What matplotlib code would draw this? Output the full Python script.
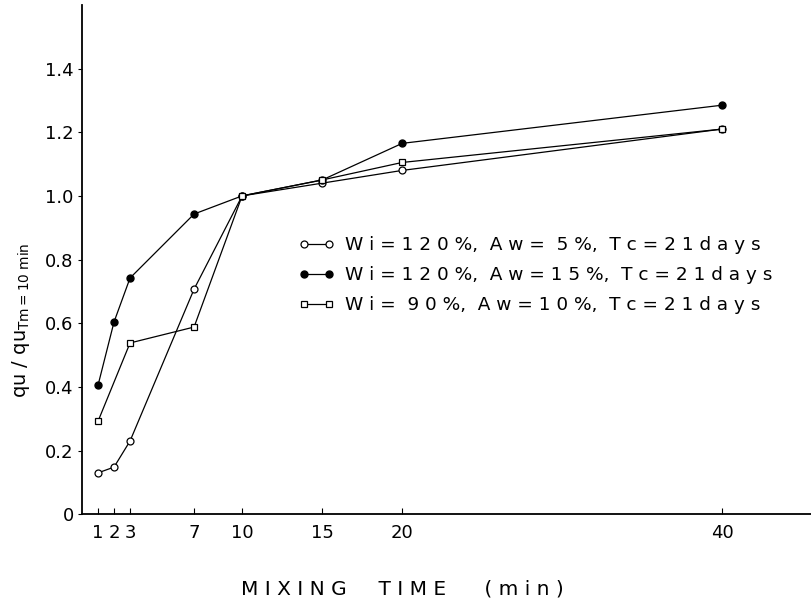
import numpy as np
import matplotlib.pyplot as plt

# mixing time (min) and normalised strength qu / qu(Tm=10 min)
time_a = [1, 2, 3, 7, 10, 15, 20, 40]
qu_a = [0.13, 0.148, 0.23, 0.707, 1.0, 1.04, 1.08, 1.21]

time_b = [1, 2, 3, 7, 10, 15, 20, 40]
qu_b = [0.405, 0.604, 0.742, 0.943, 1.0, 1.05, 1.165, 1.285]

time_c = [1, 3, 7, 10, 15, 20, 40]
qu_c = [0.292, 0.538, 0.588, 1.0, 1.05, 1.105, 1.21]

labels = ["Wi=120%, Aw= 5%, Tc=21days",
          "Wi=120%, Aw=15%, Tc=21days",
          "Wi= 90%, Aw=10%, Tc=21days"]

x_ticks = [1, 2, 3, 7, 10, 15, 20, 40]
y_ticks = [0, 0.2, 0.4, 0.6, 0.8, 1.0, 1.2, 1.4]


def spaced(s):
    # stretch lettering the way the stencil labels are drawn
    return " ".join(s).replace(" ,", ",").replace("   ", "  ")


fig = plt.figure(figsize=(8.12, 6.1), dpi=100)
ax = fig.add_axes([0.101, 0.157, 0.899, 0.835])

ax.plot(time_a, qu_a, color="black", lw=0.9, marker="o", ms=5,
        mfc="white", mec="black", mew=0.9, label=spaced(labels[0]))
ax.plot(time_b, qu_b, color="black", lw=0.9, marker="o", ms=5,
        mfc="black", mec="black", label=spaced(labels[1]))
ax.plot(time_c, qu_c, color="black", lw=0.9, marker="s", ms=5,
        mfc="white", mec="black", mew=0.9, label=spaced(labels[2]))

ax.set_xlim(0, 45.6)
ax.set_ylim(0, 1.6)

ax.spines["top"].set_visible(False)
ax.spines["right"].set_visible(False)
ax.spines["left"].set_linewidth(1.3)
ax.spines["bottom"].set_linewidth(1.3)

ax.set_xticks(x_ticks)
ax.set_xticklabels([str(t) for t in x_ticks], fontsize=13)
ax.tick_params(axis="x", direction="in", length=4, pad=7)

ax.set_yticks(y_ticks)
ax.set_yticklabels(["0"] + [f"{v:.1f}" for v in y_ticks[1:]], fontsize=13)
ax.tick_params(axis="y", direction="out", length=3, pad=3)

leg = ax.legend(loc="upper left", bbox_to_anchor=(0.296, 0.546), frameon=False,
                fontsize=13.3, numpoints=2, handlelength=2.0, handletextpad=0.55,
                labelspacing=0.65, borderpad=0, borderaxespad=0)

fig.text(0.496, 0.034, spaced("MIXING") + "     " + spaced("TIME") + "      " + spaced("(min)"),
         ha="center", va="center", fontsize=14.5)
fig.text(0.026, 0.475, r"qu / qu$_{\mathregular{Tm=10\ min}}$", rotation=90,
         ha="center", va="center", fontsize=14)

fig.savefig("out.png", dpi=100)
